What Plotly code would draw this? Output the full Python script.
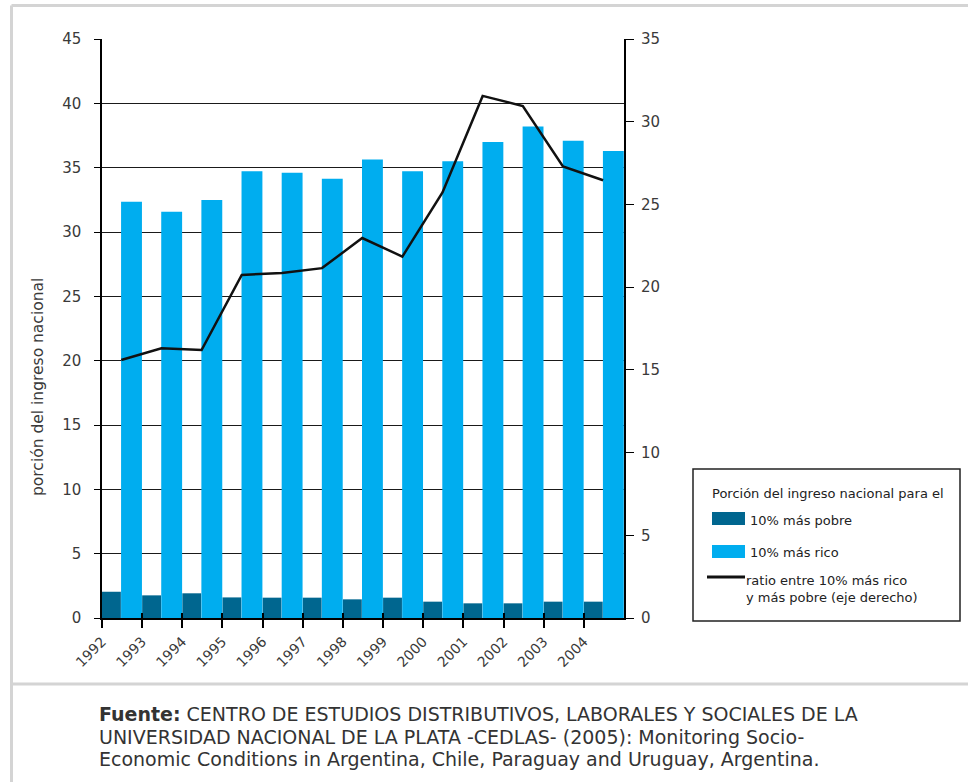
import plotly.graph_objects as go

# Share of national income (%) by decile, Argentina 1992-2004
years = [1992, 1993, 1994, 1995, 1996, 1997, 1998, 1999, 2000, 2001, 2002, 2003, 2004]
poorest_10 = [2.04, 1.76, 1.92, 1.60, 1.58, 1.58, 1.45, 1.58, 1.27, 1.14, 1.14, 1.27, 1.27]
richest_10 = [32.35, 31.57, 32.48, 34.73, 34.60, 34.13, 35.64, 34.73, 35.50, 37.00, 38.20, 37.10, 36.30]
ratio_rich_poor = [15.6, 16.3, 16.2, 20.74, 20.85, 21.15, 22.97, 21.85, 25.72, 31.56, 30.95, 27.3, 26.46]

left_ticks = list(range(0, 46, 5))
right_ticks = list(range(0, 36, 5))

source_lines = [
    "<b>Fuente:</b> CENTRO DE ESTUDIOS DISTRIBUTIVOS, LABORALES Y SOCIALES DE LA",
    "UNIVERSIDAD NACIONAL DE LA PLATA -CEDLAS- (2005): Monitoring Socio-",
    "Economic Conditions in Argentina, Chile, Paraguay and Uruguay, Argentina.",
]

DARK = "#00668f"
LIGHT = "#00adef"
TXT = "#3a3a3a"
W, H = 968, 782
L, R, T, B = 102, 624, 39, 618  # plot area in pixels


def px(x):
    return (x - L) / (R - L)


def py(y):
    return (B - y) / (B - T)


idx = list(range(len(years)))
dark_w, light_w = 0.47, 0.52

fig = go.Figure()
fig.add_trace(go.Bar(
    x=[i + dark_w / 2 for i in idx], y=poorest_10, width=dark_w,
    marker=dict(color=DARK, line=dict(width=0)), name="10% más pobre",
    showlegend=False,
))
fig.add_trace(go.Bar(
    x=[i + 0.475 + light_w / 2 for i in idx], y=richest_10, width=light_w,
    marker=dict(color=LIGHT, line=dict(width=0)), name="10% más rico",
    showlegend=False,
))
fig.add_trace(go.Scatter(
    x=[i + 0.48 for i in idx], y=ratio_rich_poor, mode="lines",
    line=dict(color="#111111", width=2.5), yaxis="y2", xaxis="x2",
    name="ratio", showlegend=False,
))

fig.update_layout(
    width=W, height=H,
    margin=dict(l=L, r=W - R, t=T, b=H - B),
    paper_bgcolor="white", plot_bgcolor="white",
    barmode="overlay",
    xaxis=dict(
        range=[0, 13], tickvals=idx, ticktext=[str(y) for y in years],
        tickangle=-45, ticks="outside", ticklen=8, tickwidth=2, tickcolor="black",
        showline=True, linecolor="black", linewidth=2, showgrid=False, zeroline=False,
        tickfont=dict(family="DejaVu Sans", size=14, color=TXT),
    ),
    xaxis2=dict(
        range=[0, 13], overlaying="x", anchor="y", side="bottom",
        tickvals=idx, ticks="inside", ticklen=5, tickwidth=2, tickcolor="black",
        showticklabels=False, showgrid=False, zeroline=False, showline=False,
    ),
    yaxis=dict(
        range=[0, 45], tickvals=left_ticks, ticks="outside", ticklen=6,
        tickcolor="black", showline=True, linecolor="black", linewidth=1.5,
        showgrid=True, gridcolor="#1a1a1a", gridwidth=1, zeroline=False,
        tickfont=dict(family="DejaVu Sans", size=15, color=TXT), ticklabelstandoff=10,
    ),
    yaxis2=dict(
        range=[0, 35], tickvals=right_ticks, overlaying="y", side="right",
        anchor="x", ticks="outside", ticklen=8, tickcolor="black",
        showline=True, linecolor="black", linewidth=2, showgrid=False,
        zeroline=False, tickfont=dict(family="DejaVu Sans", size=15, color=TXT),
        ticklabelstandoff=4,
    ),
)

shapes = []
annotations = []

# Outer frame and divider above the source note
frame = dict(color="#d4d4d4", width=3)
shapes.append(dict(type="line", xref="paper", yref="paper",
                   x0=px(11.5), x1=px(W + 5), y0=py(5.5), y1=py(5.5), line=frame))
shapes.append(dict(type="line", xref="paper", yref="paper",
                   x0=px(11.5), x1=px(11.5), y0=py(5.5), y1=py(H + 5), line=frame))
shapes.append(dict(type="line", xref="paper", yref="paper",
                   x0=px(11.5), x1=px(W + 5), y0=py(684), y1=py(684), line=frame))

# Y axis title
annotations.append(dict(
    xref="paper", yref="paper", x=px(38), y=py(387), text="porción del ingreso nacional",
    textangle=-90, showarrow=False, xanchor="center", yanchor="middle",
    font=dict(family="DejaVu Sans", size=15.5, color=TXT),
))

# Legend box
shapes.append(dict(type="rect", xref="paper", yref="paper",
                   x0=px(693), x1=px(960), y0=py(469), y1=py(621),
                   line=dict(color="#222222", width=1.5), fillcolor="white"))
lfont = dict(family="DejaVu Sans", size=13, color="#222222")
annotations.append(dict(xref="paper", yref="paper", x=px(710), y=py(493),
                        text="Porción del ingreso nacional para el", showarrow=False,
                        xanchor="left", yanchor="middle", font=lfont))
shapes.append(dict(type="rect", xref="paper", yref="paper",
                   x0=px(712), x1=px(745), y0=py(512), y1=py(525),
                   line=dict(width=0), fillcolor=DARK))
annotations.append(dict(xref="paper", yref="paper", x=px(748), y=py(520),
                        text="10% más pobre", showarrow=False,
                        xanchor="left", yanchor="middle", font=lfont))
shapes.append(dict(type="rect", xref="paper", yref="paper",
                   x0=px(712), x1=px(745), y0=py(545), y1=py(558),
                   line=dict(width=0), fillcolor=LIGHT))
annotations.append(dict(xref="paper", yref="paper", x=px(748), y=py(552),
                        text="10% más rico", showarrow=False,
                        xanchor="left", yanchor="middle", font=lfont))
shapes.append(dict(type="line", xref="paper", yref="paper",
                   x0=px(707), x1=px(745), y0=py(577), y1=py(577),
                   line=dict(color="#111111", width=3)))
annotations.append(dict(xref="paper", yref="paper", x=px(744), y=py(589),
                        text="ratio entre 10% más rico<br>y más pobre (eje derecho)",
                        showarrow=False, align="left",
                        xanchor="left", yanchor="middle", font=lfont))

# Source note, one annotation per line
for k, line in enumerate(source_lines):
    annotations.append(dict(
        xref="paper", yref="paper", x=px(97), y=py(714 + 22.5 * k),
        text=line, showarrow=False, align="left", xanchor="left", yanchor="middle",
        font=dict(family="DejaVu Sans", size=19, color="#333333"),
    ))

fig.update_layout(shapes=shapes, annotations=annotations)
fig.write_html("out.html")
